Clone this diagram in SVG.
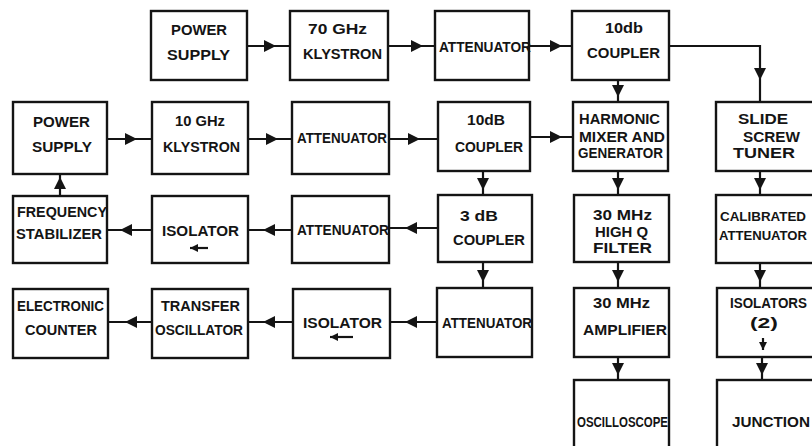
<svg xmlns="http://www.w3.org/2000/svg" xmlns:xlink="http://www.w3.org/1999/xlink" width="812" height="446" viewBox="0 0 812 446">
<defs>
<style>
.box{fill:#fff;stroke:#141414;stroke-width:2.4}
.c{fill:none;stroke:#141414;stroke-width:2.2}
text{font-family:"Liberation Sans",Arial,sans-serif;font-weight:bold;font-size:14.5px;fill:#141414}
.sm{font-size:13px}
</style>
<marker id="ah" markerUnits="userSpaceOnUse" markerWidth="14" markerHeight="12" refX="12" refY="6" orient="auto" overflow="visible">
<path d="M0,0 L12,6 L0,12 Z" fill="#141414"/>
</marker>
<marker id="sm" markerUnits="userSpaceOnUse" markerWidth="10" markerHeight="8" refX="8" refY="4" orient="auto" overflow="visible">
<path d="M0,0 L8,4 L0,8 Z" fill="#141414"/>
</marker>
</defs>
<rect width="812" height="446" fill="#fff"/>

<g id="connectors">
<polyline class="c" points="247,46 276,46 290,46" marker-mid="url(#ah)"/>
<polyline class="c" points="388,46 423,46 435,46" marker-mid="url(#ah)"/>
<polyline class="c" points="529,46 562,46 572,46" marker-mid="url(#ah)"/>
<polyline class="c" points="618,80 618,97 618,102" marker-mid="url(#ah)"/>
<line class="c" x1="669" y1="46" x2="760" y2="46"/>
<polyline class="c" points="760,45 760,80 760,102" marker-mid="url(#ah)"/>

<polyline class="c" points="107,139 137,139 152,139" marker-mid="url(#ah)"/>
<polyline class="c" points="248,139 278,139 292,139" marker-mid="url(#ah)"/>
<polyline class="c" points="389,139 420,139 438,139" marker-mid="url(#ah)"/>
<polyline class="c" points="530,137 562,137 573,137" marker-mid="url(#ah)"/>
<polyline class="c" points="483,171 483,190 483,195" marker-mid="url(#ah)"/>
<polyline class="c" points="618,171 618,190 618,195" marker-mid="url(#ah)"/>
<polyline class="c" points="760,171 760,190 760,195" marker-mid="url(#ah)"/>
<polyline class="c" points="60,196 60,177 60,174" marker-mid="url(#ah)"/>

<polyline class="c" points="152,230 120,230 107,230" marker-mid="url(#ah)"/>
<polyline class="c" points="292,230 263,230 248,230" marker-mid="url(#ah)"/>
<polyline class="c" points="438,228 405,228 389,228" marker-mid="url(#ah)"/>
<polyline class="c" points="483,262 483,282 483,288" marker-mid="url(#ah)"/>
<polyline class="c" points="618,262 618,282 618,288" marker-mid="url(#ah)"/>
<polyline class="c" points="760,263 760,282 760,288" marker-mid="url(#ah)"/>

<polyline class="c" points="152,322 125,322 108,322" marker-mid="url(#ah)"/>
<polyline class="c" points="293,322 263,322 248,322" marker-mid="url(#ah)"/>
<polyline class="c" points="437,322 405,322 390,322" marker-mid="url(#ah)"/>
<polyline class="c" points="618,357 618,375 618,380" marker-mid="url(#ah)"/>
<polyline class="c" points="762,357 762,375 762,380" marker-mid="url(#ah)"/>
</g>

<g id="power-supply-70">
<rect class="box" x="151" y="11" width="96" height="69"/>
<text x="171" y="35" textLength="56" lengthAdjust="spacingAndGlyphs">POWER</text>
<text x="167" y="60" textLength="63" lengthAdjust="spacingAndGlyphs">SUPPLY</text>
</g>
<g id="klystron-70">
<rect class="box" x="290" y="11" width="98" height="69"/>
<text x="308" y="34" textLength="59" lengthAdjust="spacingAndGlyphs">70 GHz</text>
<text x="303" y="59" textLength="79" lengthAdjust="spacingAndGlyphs">KLYSTRON</text>
</g>
<g id="attenuator-1">
<rect class="box" x="435" y="11" width="94" height="69"/>
<text x="439" y="52" textLength="92" lengthAdjust="spacingAndGlyphs">ATTENUATOR</text>
</g>
<g id="coupler-10db-top">
<rect class="box" x="572" y="11" width="97" height="69"/>
<text x="605" y="33" textLength="38" lengthAdjust="spacingAndGlyphs">10db</text>
<text x="587" y="58" textLength="73" lengthAdjust="spacingAndGlyphs">COUPLER</text>
</g>

<g id="power-supply-10">
<rect class="box" x="13" y="102" width="94" height="72"/>
<text x="33" y="127" textLength="57" lengthAdjust="spacingAndGlyphs">POWER</text>
<text x="32" y="152" textLength="60" lengthAdjust="spacingAndGlyphs">SUPPLY</text>
</g>
<g id="klystron-10">
<rect class="box" x="152" y="102" width="96" height="72"/>
<text x="175" y="126" textLength="50" lengthAdjust="spacingAndGlyphs">10 GHz</text>
<text x="163" y="152" textLength="77" lengthAdjust="spacingAndGlyphs">KLYSTRON</text>
</g>
<g id="attenuator-2">
<rect class="box" x="292" y="102" width="97" height="72"/>
<text x="297" y="143" textLength="90" lengthAdjust="spacingAndGlyphs">ATTENUATOR</text>
</g>
<g id="coupler-10db">
<rect class="box" x="438" y="102" width="92" height="69"/>
<text x="467" y="125" textLength="38" lengthAdjust="spacingAndGlyphs">10dB</text>
<text x="455" y="152" textLength="68" lengthAdjust="spacingAndGlyphs">COUPLER</text>
</g>
<g id="harmonic-mixer">
<rect class="box" x="573" y="102" width="95" height="69"/>
<text x="579" y="124" textLength="81" lengthAdjust="spacingAndGlyphs">HARMONIC</text>
<text x="579" y="142" textLength="86" lengthAdjust="spacingAndGlyphs">MIXER AND</text>
<text x="578" y="158" textLength="85" lengthAdjust="spacingAndGlyphs">GENERATOR</text>
</g>
<g id="slide-screw-tuner">
<rect class="box" x="716" y="102" width="104" height="69"/>
<text x="738" y="124" textLength="50" lengthAdjust="spacingAndGlyphs">SLIDE</text>
<text x="743" y="142" textLength="57" lengthAdjust="spacingAndGlyphs">SCREW</text>
<text x="733" y="158" textLength="62" lengthAdjust="spacingAndGlyphs">TUNER</text>
</g>

<g id="frequency-stabilizer">
<rect class="box" x="13" y="196" width="94" height="67"/>
<text x="17" y="217" textLength="90" lengthAdjust="spacingAndGlyphs">FREQUENCY</text>
<text x="16" y="239" textLength="86" lengthAdjust="spacingAndGlyphs">STABILIZER</text>
</g>
<g id="isolator-1">
<rect class="box" x="152" y="196" width="96" height="67"/>
<text x="162" y="236" textLength="77" lengthAdjust="spacingAndGlyphs">ISOLATOR</text>
<line class="c" x1="208" y1="248" x2="190" y2="248" stroke-width="1.8" marker-end="url(#sm)"/>
</g>
<g id="attenuator-3">
<rect class="box" x="292" y="196" width="97" height="67"/>
<text x="297" y="235" textLength="92" lengthAdjust="spacingAndGlyphs">ATTENUATOR</text>
</g>
<g id="coupler-3db">
<rect class="box" x="438" y="195" width="94" height="67"/>
<text x="460" y="221" textLength="38" lengthAdjust="spacingAndGlyphs">3 dB</text>
<text x="453" y="245" textLength="72" lengthAdjust="spacingAndGlyphs">COUPLER</text>
</g>
<g id="filter">
<rect class="box" x="574" y="195" width="95" height="67"/>
<text x="593" y="220" textLength="59" lengthAdjust="spacingAndGlyphs">30 MHz</text>
<text x="595" y="237" textLength="53" lengthAdjust="spacingAndGlyphs">HIGH Q</text>
<text x="593" y="253" textLength="59" lengthAdjust="spacingAndGlyphs">FILTER</text>
</g>
<g id="calibrated-attenuator">
<rect class="box" x="716" y="195" width="104" height="68"/>
<text class="sm" x="720" y="221" textLength="86" lengthAdjust="spacingAndGlyphs">CALIBRATED</text>
<text class="sm" x="719" y="240" textLength="88" lengthAdjust="spacingAndGlyphs">ATTENUATOR</text>
</g>

<g id="electronic-counter">
<rect class="box" x="13" y="289" width="95" height="69"/>
<text x="17" y="311" textLength="87" lengthAdjust="spacingAndGlyphs">ELECTRONIC</text>
<text x="25" y="335" textLength="72" lengthAdjust="spacingAndGlyphs">COUNTER</text>
</g>
<g id="transfer-oscillator">
<rect class="box" x="152" y="289" width="96" height="69"/>
<text x="161" y="311" textLength="79" lengthAdjust="spacingAndGlyphs">TRANSFER</text>
<text x="155" y="335" textLength="88" lengthAdjust="spacingAndGlyphs">OSCILLATOR</text>
</g>
<g id="isolator-2">
<rect class="box" x="293" y="289" width="97" height="69"/>
<text x="303" y="328" textLength="79" lengthAdjust="spacingAndGlyphs">ISOLATOR</text>
<line class="c" x1="353" y1="337" x2="330" y2="337" stroke-width="1.8" marker-end="url(#sm)"/>
</g>
<g id="attenuator-4">
<rect class="box" x="437" y="288" width="95" height="69"/>
<text x="442" y="328" textLength="90" lengthAdjust="spacingAndGlyphs">ATTENUATOR</text>
</g>
<g id="amplifier">
<rect class="box" x="574" y="288" width="95" height="69"/>
<text x="593" y="308" textLength="57" lengthAdjust="spacingAndGlyphs">30 MHz</text>
<text x="583" y="335" textLength="84" lengthAdjust="spacingAndGlyphs">AMPLIFIER</text>
</g>
<g id="isolators-2">
<rect class="box" x="717" y="288" width="103" height="69"/>
<text x="730" y="308" textLength="77" lengthAdjust="spacingAndGlyphs">ISOLATORS</text>
<text x="750" y="328" textLength="28" lengthAdjust="spacingAndGlyphs">(2)</text>
<line class="c" x1="763" y1="338" x2="763" y2="350" stroke-width="1.8" marker-end="url(#sm)"/>
</g>

<g id="oscilloscope">
<rect class="box" x="574" y="380" width="95" height="80"/>
<text x="577" y="427" textLength="91" lengthAdjust="spacingAndGlyphs">OSCILLOSCOPE</text>
</g>
<g id="junction">
<rect class="box" x="717" y="380" width="103" height="80"/>
<text x="732" y="427" textLength="78" lengthAdjust="spacingAndGlyphs">JUNCTION</text>
</g>
</svg>
